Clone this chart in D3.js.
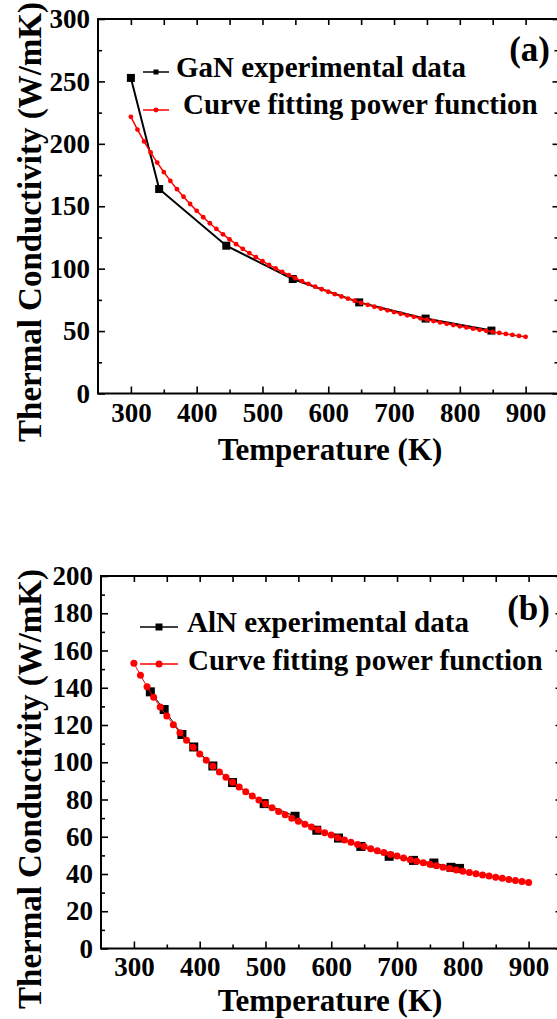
<!DOCTYPE html>
<html>
<head>
<meta charset="utf-8">
<script src="https://cdn.jsdelivr.net/npm/d3@7"></script>
<style>
  body { margin: 0; background: #fff; }
  svg text { font-family: "Liberation Serif", "Times New Roman", serif; font-weight: bold; }
</style>
</head>
<body>
<div id="chart"></div>
<script>
// temperature ticks shared by both panels
const tempTicks = [300, 400, 500, 600, 700, 800, 900];
const tempMinor = [350, 450, 550, 650, 750, 850];

// panel (a): GaN
const ganTemp = [300, 343, 445, 546, 647, 748, 848];
const ganK = [252.8, 163.8, 118.4, 91.7, 73.0, 60.0, 50.4];
const fitTemp = [300, 310, 320, 330, 340, 350, 360, 370, 380, 390,
    400, 410, 420, 430, 440, 450, 460, 470, 480, 490,
    500, 510, 520, 530, 540, 550, 560, 570, 580, 590,
    600, 610, 620, 630, 640, 650, 660, 670, 680, 690,
    700, 710, 720, 730, 740, 750, 760, 770, 780, 790,
    800, 810, 820, 830, 840, 850, 860, 870, 880, 890, 900];
const ganFitK = [221.6, 211.4, 201.9, 193.1, 185.0, 177.4, 170.3, 163.7, 157.6, 151.8,
    146.3, 141.2, 136.4, 131.8, 127.5, 123.4, 119.6, 115.9, 112.5, 109.2,
    106.0, 103.0, 100.2, 97.5, 94.9, 92.4, 90.0, 87.8, 85.6, 83.5,
    81.5, 79.6, 77.7, 76.0, 74.3, 72.6, 71.0, 69.5, 68.0, 66.6,
    65.2, 63.9, 62.6, 61.4, 60.2, 59.1, 58.0, 56.9, 55.8, 54.8,
    53.8, 52.9, 51.9, 51.0, 50.2, 49.3, 48.5, 47.7, 46.9, 46.1, 45.4];
const ganTicks = [0, 50, 100, 150, 200, 250, 300];
const ganMinor = [25, 75, 125, 175, 225, 275];

// panel (b): AlN
const alnTemp = [325, 346, 373, 391, 420, 450, 498, 545, 578, 611, 645, 688, 725, 756, 782, 795];
const alnK = [137.8, 128.3, 114.9, 108.2, 98.0, 89.1, 77.8, 71.0, 63.5, 59.3, 54.8, 49.5, 47.3, 45.9, 43.6, 43.0];
const alnFitK = [153.2, 146.7, 140.6, 134.9, 129.7, 124.8, 120.2, 115.9, 111.8, 108.0,
    104.4, 101.1, 97.9, 94.8, 92.0, 89.3, 86.7, 84.2, 81.9, 79.7,
    77.6, 75.6, 73.6, 71.8, 70.0, 68.3, 66.7, 65.2, 63.7, 62.2,
    60.9, 59.5, 58.2, 57.0, 55.8, 54.7, 53.6, 52.5, 51.5, 50.5,
    49.6, 48.6, 47.7, 46.9, 46.0, 45.2, 44.4, 43.6, 42.9, 42.2,
    41.5, 40.8, 40.1, 39.5, 38.9, 38.3, 37.7, 37.1, 36.5, 36.0, 35.5];
const alnTicks = [0, 20, 40, 60, 80, 100, 120, 140, 160, 180, 200];
const alnMinor = [10, 30, 50, 70, 90, 110, 130, 150, 170, 190];

const svg = d3.select('#chart')
    .append('svg')
    .attr('width', 557)
    .attr('height', 1019);

svg.append('rect').attr('width', 557).attr('height', 1019).attr('fill', '#fff');

function drawPanel(p) {
    const x = d3.scaleLinear().domain([250, 950]).range([p.left, p.right]);
    const y = d3.scaleLinear().domain([0, p.yMax]).range([p.bottom, p.top]);
    const g = svg.append('g');

    // axes: ticks point inward on all four sides
    function styleAxis(sel) {
        sel.attr('font-size', 27)
            .attr('font-family', '"Liberation Serif", serif')
            .attr('font-weight', 'bold');
        sel.select('.domain').remove();
        sel.selectAll('line').attr('stroke-width', 1.6);
        sel.selectAll('text').attr('fill', '#000');
    }
    g.append('g').attr('transform', 'translate(0,' + p.bottom + ')')
        .call(d3.axisBottom(x).tickValues(tempTicks).tickSize(-7).tickPadding(p.xPad))
        .call(styleAxis);
    g.append('g').attr('transform', 'translate(0,' + p.bottom + ')')
        .call(d3.axisBottom(x).tickValues(tempMinor).tickSize(-4).tickFormat(''))
        .call(styleAxis);
    g.append('g').attr('transform', 'translate(0,' + p.top + ')')
        .call(d3.axisTop(x).tickValues(tempTicks.concat(tempMinor)).tickSize(-6).tickFormat(''))
        .call(styleAxis);
    g.append('g').attr('transform', 'translate(' + p.left + ',0)')
        .call(d3.axisLeft(y).tickValues(p.yTicks).tickSize(-7).tickPadding(8))
        .call(styleAxis);
    g.append('g').attr('transform', 'translate(' + p.left + ',0)')
        .call(d3.axisLeft(y).tickValues(p.yMinor).tickSize(-4).tickFormat(''))
        .call(styleAxis);
    g.append('g').attr('transform', 'translate(' + p.right + ',0)')
        .call(d3.axisRight(y).tickValues(p.yTicks).tickSize(-6).tickFormat(''))
        .call(styleAxis);
    g.append('g').attr('transform', 'translate(' + p.right + ',0)')
        .call(d3.axisRight(y).tickValues(p.yMinor).tickSize(-4).tickFormat(''))
        .call(styleAxis);

    // frame
    g.append('rect')
        .attr('x', p.left).attr('y', p.top)
        .attr('width', p.right - p.left).attr('height', p.bottom - p.top)
        .attr('fill', 'none').attr('stroke', '#000').attr('stroke-width', 2);

    const line = d3.line().x(d => x(d[0])).y(d => y(d[1]));
    const exp = d3.zip(p.expT, p.expK);
    const fit = d3.zip(fitTemp, p.fitK);

    // experimental data
    g.append('path').datum(exp)
        .attr('d', line)
        .attr('fill', 'none')
        .attr('stroke', '#000')
        .attr('stroke-width', p.expLine);
    g.selectAll('.sq').data(exp).join('rect')
        .attr('class', 'sq')
        .attr('x', d => x(d[0]) - p.sq / 2)
        .attr('y', d => y(d[1]) - p.sq / 2)
        .attr('width', p.sq).attr('height', p.sq)
        .attr('fill', '#000');

    // power-function fit
    g.append('path').datum(fit)
        .attr('d', line)
        .attr('fill', 'none')
        .attr('stroke', 'red')
        .attr('stroke-width', p.fitLine);
    g.selectAll('.dot').data(fit).join('circle')
        .attr('class', 'dot')
        .attr('cx', d => x(d[0]))
        .attr('cy', d => y(d[1]))
        .attr('r', p.dot)
        .attr('fill', 'red');

    // legend
    const L = p.legend;
    g.append('line')
        .attr('x1', L.x1).attr('x2', L.x2).attr('y1', L.y1).attr('y2', L.y1)
        .attr('stroke', '#000').attr('stroke-width', 1.5);
    g.append('rect')
        .attr('x', (L.x1 + L.x2) / 2 - L.sq / 2).attr('y', L.y1 - L.sq / 2)
        .attr('width', L.sq).attr('height', L.sq).attr('fill', '#000');
    g.append('text').attr('x', L.t1).attr('y', L.b1).attr('font-size', 29).text(p.expName);
    g.append('line')
        .attr('x1', L.x1).attr('x2', L.x2).attr('y1', L.y2).attr('y2', L.y2)
        .attr('stroke', 'red').attr('stroke-width', 1.5);
    g.append('circle')
        .attr('cx', (L.x1 + L.x2) / 2).attr('cy', L.y2).attr('r', L.dot).attr('fill', 'red');
    g.append('text').attr('x', L.t2).attr('y', L.b2).attr('font-size', 29).text('Curve fitting power function');

    g.append('text')
        .attr('x', 550).attr('y', p.tagY)
        .attr('text-anchor', 'end')
        .attr('font-size', 35)
        .text(p.tag);

    // axis titles
    g.append('text')
        .attr('x', 330).attr('y', p.xTitleY)
        .attr('text-anchor', 'middle')
        .attr('font-size', 31)
        .text('Temperature (K)');
    g.append('text')
        .attr('transform', 'translate(41,' + p.yTitleY + ') rotate(-90)')
        .attr('text-anchor', 'middle')
        .attr('font-size', 33)
        .text('Thermal Conductivity (W/mK)');
}

drawPanel({
    left: 98, right: 558.5, top: 19, bottom: 393.5,
    yMax: 300, yTicks: ganTicks, yMinor: ganMinor, xPad: 9.5,
    expT: ganTemp, expK: ganK, fitK: ganFitK, expName: 'GaN experimental data',
    sq: 8, expLine: 2, fitLine: 1.5, dot: 2.4,
    legend: { x1: 143, x2: 169, y1: 72, y2: 110, sq: 5, dot: 2.4, t1: 176, b1: 77, t2: 183, b2: 114 },
    tag: '(a)', tagY: 61, xTitleY: 460, yTitleY: 222
});

drawPanel({
    left: 101, right: 561.5, top: 576, bottom: 948.5,
    yMax: 200, yTicks: alnTicks, yMinor: alnMinor, xPad: 8,
    expT: alnTemp, expK: alnK, fitK: alnFitK, expName: 'AlN experimental data',
    sq: 9, expLine: 1, fitLine: 1, dot: 3.5,
    legend: { x1: 140, x2: 178, y1: 627, y2: 664, sq: 7, dot: 3.5, t1: 187, b1: 632, t2: 188, b2: 670 },
    tag: '(b)', tagY: 620, xTitleY: 1011, yTitleY: 789
});
</script>
</body>
</html>
